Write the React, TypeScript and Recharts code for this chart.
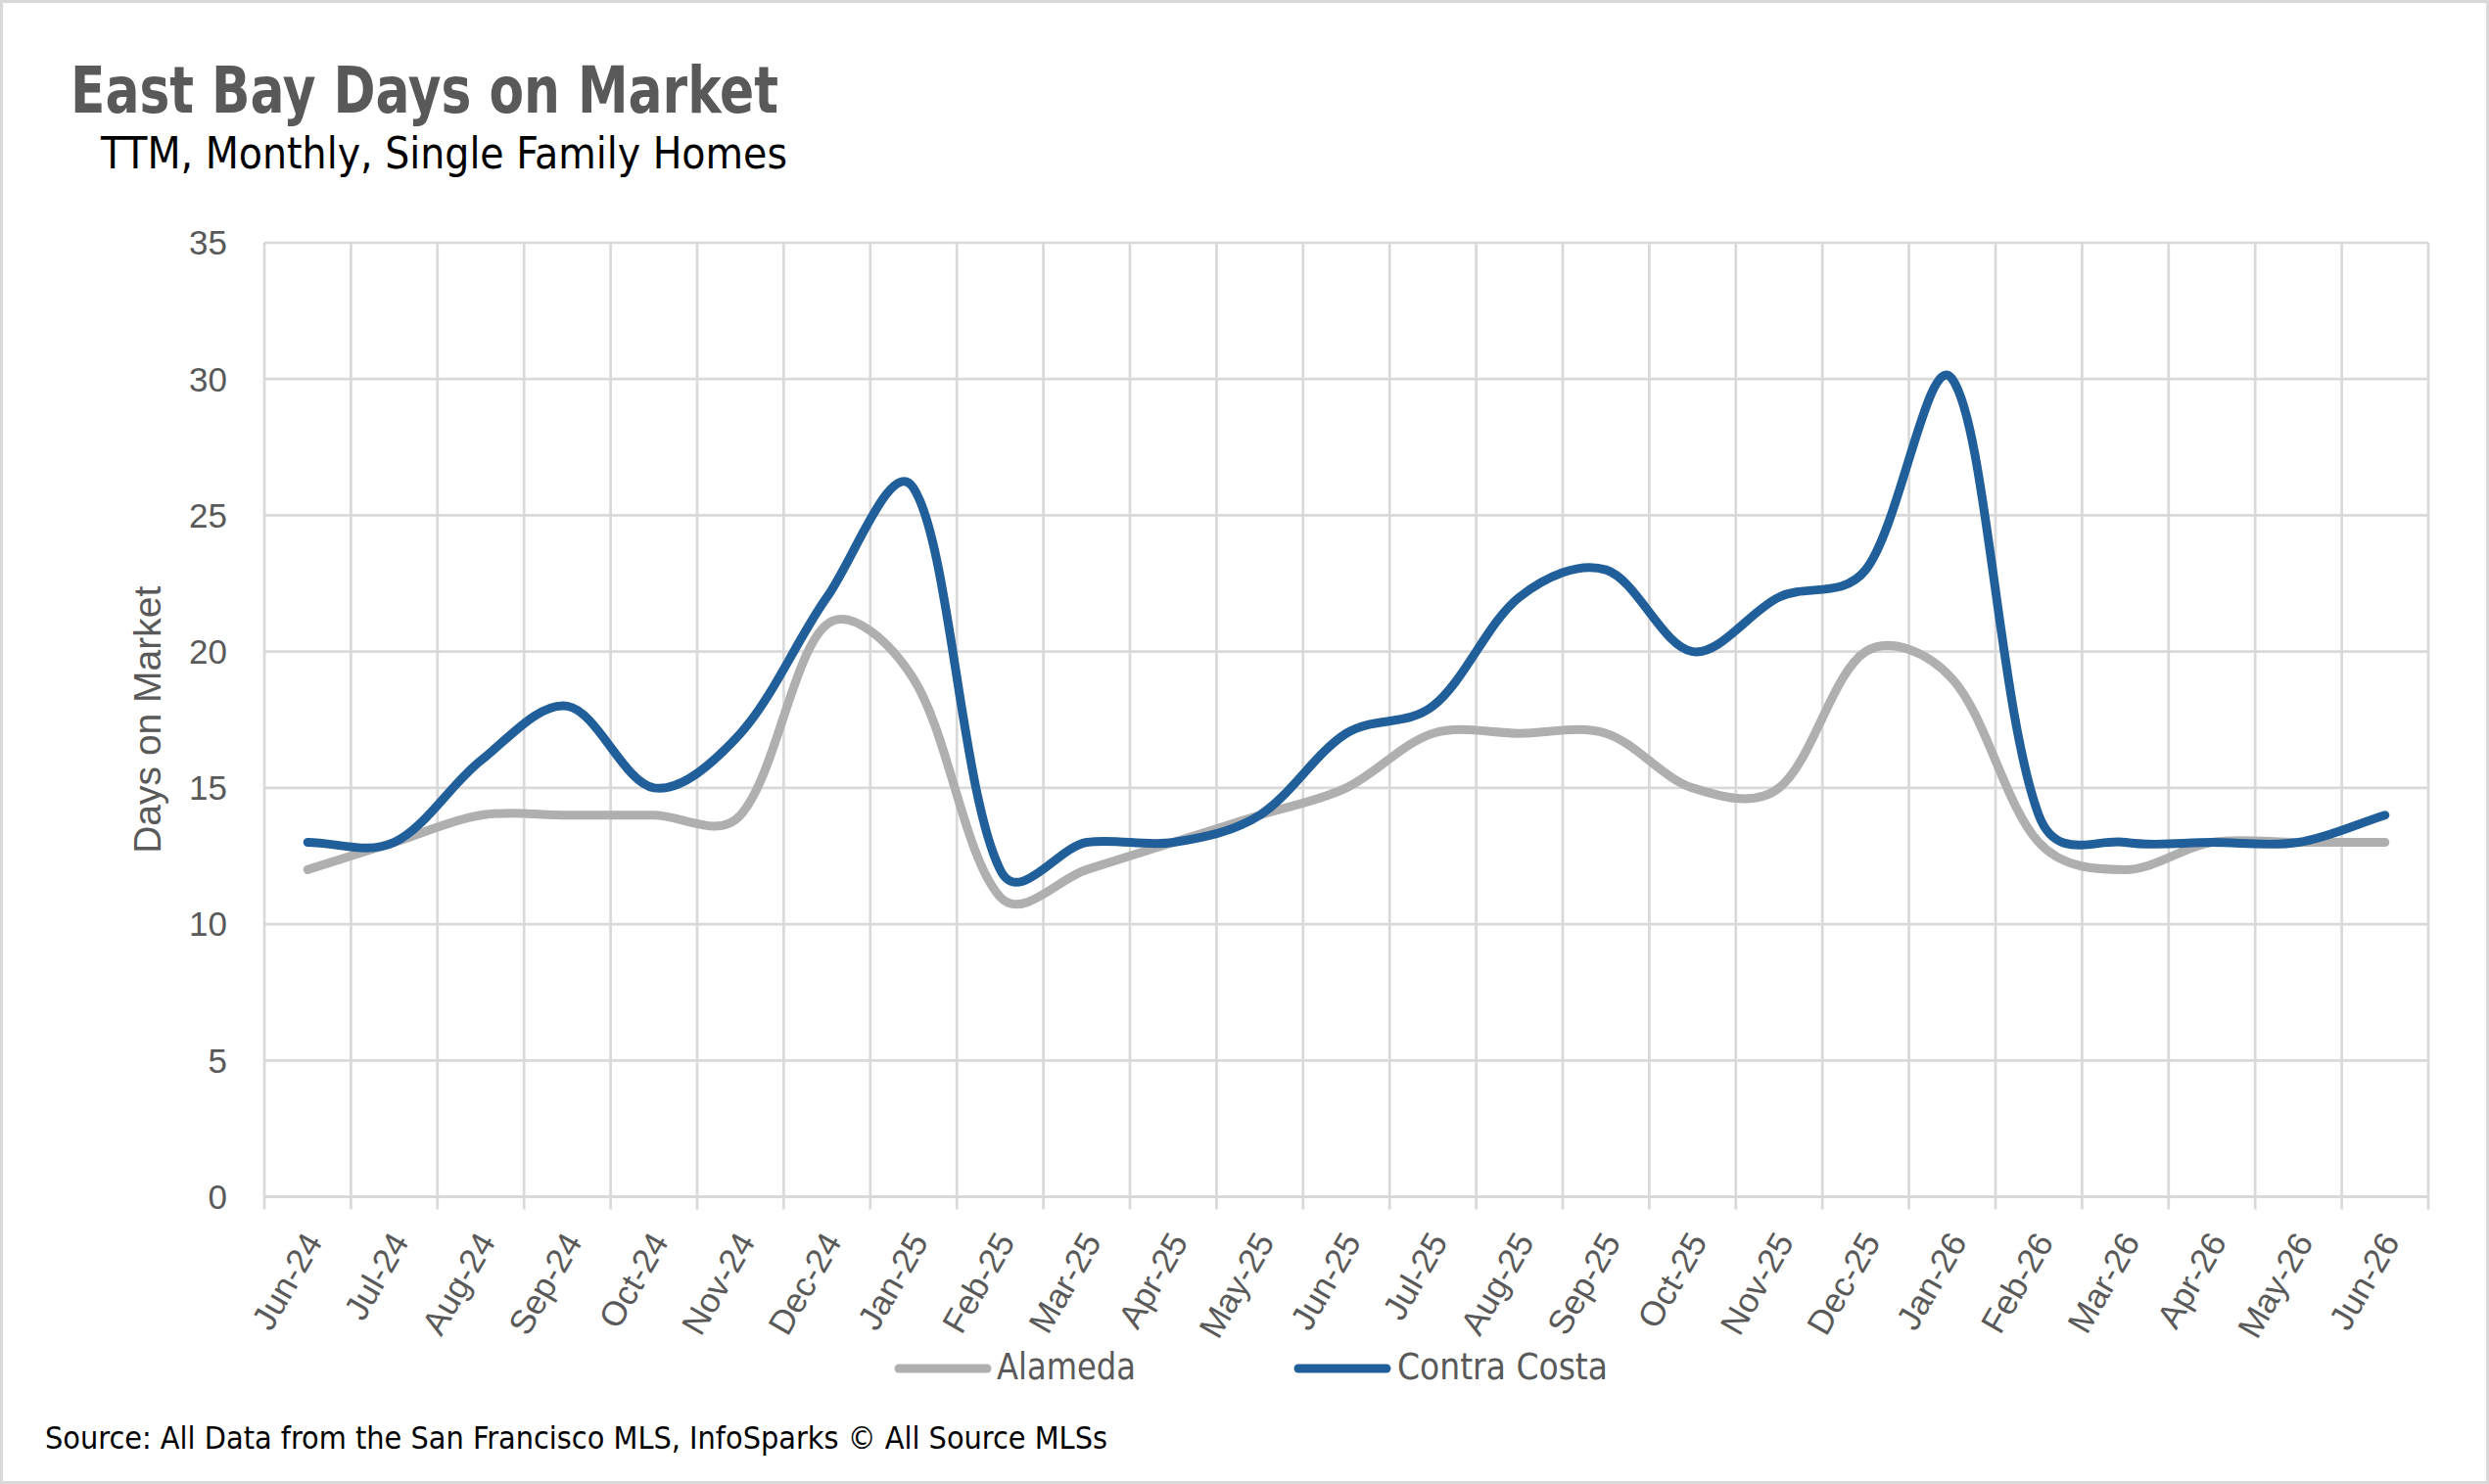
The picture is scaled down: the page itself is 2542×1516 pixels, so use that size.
import React from 'react';
import { LineChart, Line, XAxis, YAxis, CartesianGrid } from 'recharts';

// ---------- data ----------
const months = [
  'Jun-24', 'Jul-24', 'Aug-24', 'Sep-24', 'Oct-24', 'Nov-24', 'Dec-24',
  'Jan-25', 'Feb-25', 'Mar-25', 'Apr-25', 'May-25', 'Jun-25', 'Jul-25',
  'Aug-25', 'Sep-25', 'Oct-25', 'Nov-25', 'Dec-25', 'Jan-26', 'Feb-26',
  'Mar-26', 'Apr-26', 'May-26', 'Jun-26',
];
const alameda = [12, 13, 14, 14, 14, 14, 21, 19, 11, 12, 13, 14, 15, 17, 17, 17, 15, 15, 20, 19, 13, 12, 13, 13, 13];
const contraCosta = [13, 13, 16, 18, 15, 17, 22, 26, 12, 13, 13, 14, 17, 18, 22, 23, 20, 22, 23, 30, 14, 13, 13, 13, 14];
const yTicks = [0, 5, 10, 15, 20, 25, 30, 35];
const seriesNames = ['Alameda', 'Contra Costa'];
const seriesKeys = ['alameda', 'contra'];
const seriesColors = ['#AFAFAF', '#215F9A'];

const rows = months.map((m, i) => ({ idx: i, month: m, alameda: alameda[i], contra: contraCosta[i] }));
const xTicks = months.map((_, i) => i);

// ---------- layout ----------
const W = 2542;
const H = 1516;
const PLOT_LEFT = 270;
const PLOT_RIGHT = 2480;
const PLOT_TOP = 248;
const PLOT_BOTTOM = 1222.5;
const X_AXIS_H = 150;
const GRID = '#d9d9d9';
const TEXT_GRAY = '#595959';
const NARROW = "'Liberation Sans Narrow', 'Arial Narrow', 'DejaVu Sans Condensed', 'Liberation Sans', sans-serif";
const SANS = "'Liberation Sans', Arial, sans-serif";

// Excel-like smoothing curve (Bezier through points, distance-weighted tangents)
function excelCurve(context: any) {
  let pts: number[][] = [];
  const d = (a: number[], b: number[]) => Math.sqrt(Math.hypot(b[0] - a[0], b[1] - a[1]));
  return {
    areaStart() {},
    areaEnd() {},
    lineStart() { pts = []; },
    point(x: number, y: number) { pts.push([+x, +y]); },
    lineEnd() {
      const n = pts.length;
      if (!n) return;
      context.moveTo(pts[0][0], pts[0][1]);
      if (n === 1) return;
      for (let i = 0; i < n - 1; i++) {
        const p0 = pts[Math.max(i - 1, 0)];
        const p1 = pts[i];
        const p2 = pts[i + 1];
        const p3 = pts[Math.min(i + 2, n - 1)];
        const d01 = d(p0, p1), d12 = d(p1, p2), d23 = d(p2, p3);
        const w1 = d01 + d12 > 0 ? d12 / (d01 + d12) : 0.5;
        const w2 = d12 + d23 > 0 ? d12 / (d12 + d23) : 0.5;
        const c1x = p1[0] + ((p2[0] - p0[0]) * w1) / 3;
        const c1y = p1[1] + ((p2[1] - p0[1]) * w1) / 3;
        const c2x = p2[0] - ((p3[0] - p1[0]) * w2) / 3;
        const c2y = p2[1] - ((p3[1] - p1[1]) * w2) / 3;
        context.bezierCurveTo(c1x, c1y, c2x, c2y, p2[0], p2[1]);
      }
    },
  };
}

function MonthTick(props: any) {
  const { x, y, payload, width } = props;
  const n = months.length;
  const bw = (typeof width === 'number' && width > 0 ? width : PLOT_RIGHT - PLOT_LEFT) / n;
  const i = payload.value;
  const label = months[i] ?? '';
  const left = x - bw / 2;
  const ax = x + 16;
  const ay = y + 46;
  return (
    <g>
      <line x1={left} x2={left} y1={y} y2={y + 13} stroke={GRID} strokeWidth={2.7} />
      {i === n - 1 && <line x1={x + bw / 2} x2={x + bw / 2} y1={y} y2={y + 13} stroke={GRID} strokeWidth={2.7} />}
      <text
        x={ax}
        y={ay}
        textAnchor="end"
        transform={`rotate(-60, ${ax}, ${ay})`}
        fontSize={35}
        fill={TEXT_GRAY}
        fontFamily={SANS}
      >
        {label}
      </text>
    </g>
  );
}

const verticalLines = ({ offset }: any) => {
  const left = offset?.left ?? PLOT_LEFT;
  const w = offset?.width ?? PLOT_RIGHT - PLOT_LEFT;
  return months.map((_, i) => left + (i * w) / months.length).concat([left + w]);
};

export default function App() {
  const yLabelX = 150;
  const yLabelY = (PLOT_TOP + PLOT_BOTTOM) / 2;
  const legendItems = [
    { sx: 918, tx: 1018, tl: 142 },
    { sx: 1326, tx: 1427, tl: 215 },
  ];
  return (
    <div style={{ position: 'absolute', left: 0, top: 0, width: W, height: H, background: '#fff' }}>
      <LineChart
        width={W}
        height={H}
        data={rows}
        margin={{ top: PLOT_TOP, right: W - PLOT_RIGHT, bottom: H - PLOT_BOTTOM - X_AXIS_H, left: 0 }}
      >
        <CartesianGrid stroke={GRID} strokeWidth={2.7} verticalCoordinatesGenerator={verticalLines} />
        <XAxis
          type="number"
          dataKey="idx"
          domain={[-0.5, months.length - 0.5]}
          ticks={xTicks}
          interval={0}
          height={X_AXIS_H}
          tickSize={0}
          tickMargin={0}
          tickLine={false}
          axisLine={{ stroke: GRID, strokeWidth: 3.2 }}
          tick={(p: any) => <MonthTick {...p} />}
        />
        <YAxis
          type="number"
          domain={[0, 35]}
          ticks={yTicks}
          interval={0}
          width={PLOT_LEFT}
          axisLine={false}
          tickLine={false}
          tickSize={0}
          tickMargin={38}
          tick={{ fontSize: 35, fill: TEXT_GRAY, fontFamily: SANS }}
        />
        {seriesKeys.map((k, i) => (
          <Line
            key={k}
            dataKey={k}
            name={seriesNames[i]}
            type={excelCurve as any}
            stroke={seriesColors[i]}
            strokeWidth={9}
            strokeLinecap="round"
            strokeLinejoin="round"
            dot={false}
            activeDot={false}
            isAnimationActive={false}
          />
        ))}
      </LineChart>
      <svg
        width={W}
        height={H}
        style={{ position: 'absolute', left: 0, top: 0, pointerEvents: 'none' }}
      >
        <rect x={1.5} y={1.5} width={W - 3} height={H - 3} fill="none" stroke={GRID} strokeWidth={3} />
        <text x={72} y={115} fontSize={66} fontWeight="bold" fill={TEXT_GRAY} fontFamily={NARROW} textLength={723} lengthAdjust="spacingAndGlyphs">
          East Bay Days on Market
        </text>
        <text x={103} y={172} fontSize={45} fill="#000" fontFamily={NARROW} textLength={701} lengthAdjust="spacingAndGlyphs">
          TTM, Monthly, Single Family Homes
        </text>
        <text
          x={yLabelX}
          y={yLabelY}
          transform={`rotate(-90, ${yLabelX}, ${yLabelY})`}
          textAnchor="middle"
          dominantBaseline="central"
          fontSize={39}
          fill={TEXT_GRAY}
          fontFamily={SANS}
        >
          Days on Market
        </text>
        {legendItems.map((it, i) => (
          <g key={seriesKeys[i]}>
            <line x1={it.sx} x2={it.sx + 90} y1={1398} y2={1398} stroke={seriesColors[i]} strokeWidth={9} strokeLinecap="round" />
            <text x={it.tx} y={1409} fontSize={37} fill={TEXT_GRAY} fontFamily={NARROW} textLength={it.tl} lengthAdjust="spacingAndGlyphs">
              {seriesNames[i]}
            </text>
          </g>
        ))}
        <text x={46} y={1480} fontSize={32} fill="#000" fontFamily={NARROW} textLength={1085} lengthAdjust="spacingAndGlyphs">
          Source: All Data from the San Francisco MLS, InfoSparks © All Source MLSs
        </text>
      </svg>
    </div>
  );
}
